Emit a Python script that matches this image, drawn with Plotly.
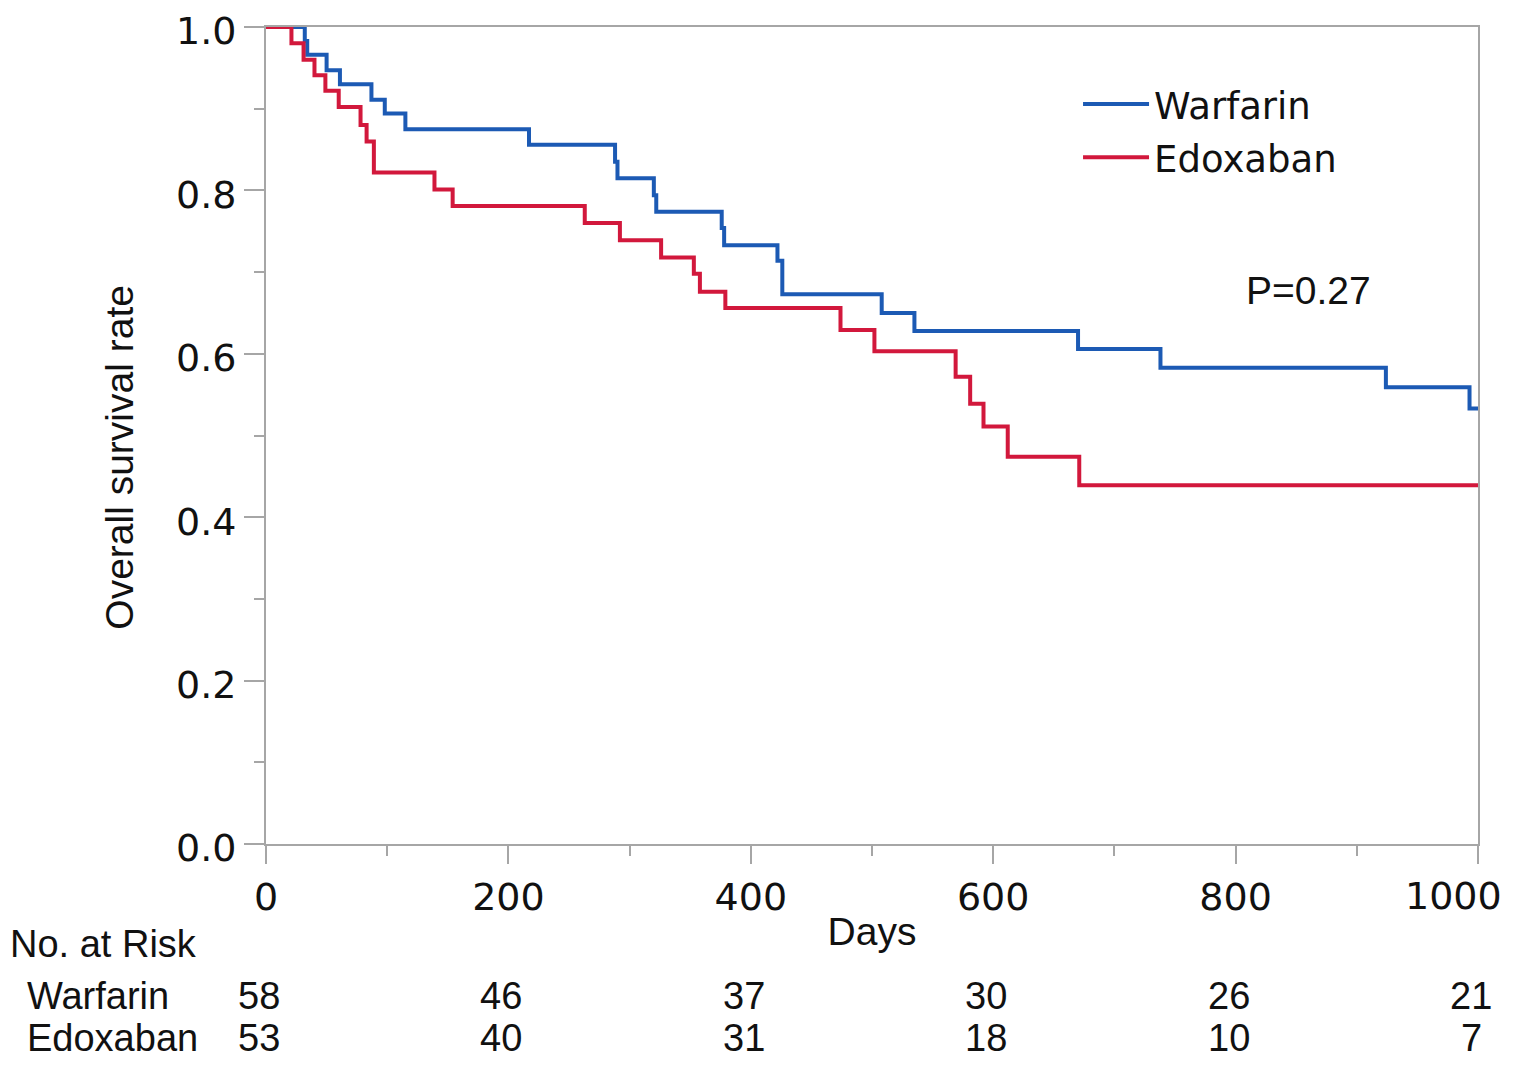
import plotly.graph_objs as go

# Kaplan-Meier steps (day, survival after the drop)
WARFARIN_DAYS = [0, 32, 34, 50, 61, 87, 98, 115, 217, 288, 290, 320, 322,
                 376, 378, 422, 426, 508, 535, 670, 738, 924, 993, 1000]
WARFARIN_SURV = [1.0, 0.983, 0.966, 0.947, 0.930, 0.911, 0.894, 0.875, 0.856,
                 0.835, 0.815, 0.794, 0.774, 0.754, 0.733, 0.714, 0.673, 0.650,
                 0.628, 0.606, 0.583, 0.559, 0.533, 0.533]

EDOXABAN_DAYS = [0, 21, 31, 40, 49, 60, 78, 83, 89, 139, 154, 263, 292, 326,
                 353, 358, 379, 474, 502, 569, 581, 592, 612, 671, 1000]
EDOXABAN_SURV = [1.0, 0.980, 0.960, 0.941, 0.922, 0.902, 0.880, 0.860, 0.822,
                 0.801, 0.781, 0.760, 0.739, 0.718, 0.698, 0.676, 0.656, 0.629,
                 0.603, 0.572, 0.539, 0.511, 0.474, 0.439, 0.439]

# numbers at risk
RISK_DAYS = [0, 200, 400, 600, 800, 1000]
WARFARIN_RISK = [58, 46, 37, 30, 26, 21]
EDOXABAN_RISK = [53, 40, 31, 18, 10, 7]

X_TICKS = [0, 200, 400, 600, 800, 1000]
# the last label sits pulled in from the right edge, so it is written as a note below
X_TICK_TEXT = ["0", "200", "400", "600", "800", ""]
LAST_TICK_TEXT = "1000"

P_TEXT = "P=0.27"

BLUE = "#1c5ab4"
RED = "#d2183c"
GREY = "#a6a6a6"
TICK_FONT = dict(family="DejaVu Sans", size=38, color="#111111")
ARIAL = dict(family="Liberation Sans, Arial", size=39, color="#111111")
TABLE_FONT = dict(family="Liberation Sans, Arial", size=38, color="#111111")

fig = go.Figure()

for name, days, surv, color in [
    ("Warfarin", WARFARIN_DAYS, WARFARIN_SURV, BLUE),
    ("Edoxaban", EDOXABAN_DAYS, EDOXABAN_SURV, RED),
]:
    fig.add_trace(
        go.Scatter(
            x=days,
            y=surv,
            mode="lines",
            name=name,
            legendgroup=name,
            line=dict(color=color, width=4, shape="hv"),
        )
    )

axis_common = dict(
    showline=True,
    linecolor=GREY,
    linewidth=2,
    mirror=True,
    showgrid=False,
    zeroline=False,
    ticks="outside",
    tickcolor=GREY,
    tickwidth=2,
    tickfont=TICK_FONT,
    ticklabeloverflow="allow",
    ticklabelstandoff=0,
    automargin=False,
)

fig.update_xaxes(
    range=[0, 1000],
    tickvals=X_TICKS,
    ticktext=X_TICK_TEXT,
    ticklen=18,
    minor=dict(dtick=100, tick0=0, ticks="outside", ticklen=10, tickcolor=GREY, tickwidth=2),
    title=dict(text="Days", font=ARIAL, standoff=0),
    **axis_common,
)
fig.update_yaxes(
    range=[0, 1],
    tick0=0,
    dtick=0.2,
    tickformat=".1f",
    ticklen=20,
    ticklabelshift=4,  # nudge down so "1.0" stays inside the page
    minor=dict(dtick=0.1, ticks="outside", ticklen=10, tickcolor=GREY, tickwidth=2),
    **axis_common,
)


def note(text, x, y, xref="paper", xanchor="center", font=ARIAL, **kw):
    return dict(text=text, x=x, y=y, xref=xref, yref="paper", xanchor=xanchor,
                yanchor="middle", showarrow=False, font=font, **kw)


ROW_RISK, ROW_W, ROW_E = -0.1224, -0.1860, -0.2375

annotations = [
    note("Overall survival rate", -0.1205, 0.474, textangle=-90),
    note(P_TEXT, 0.86, 0.678),
    note(LAST_TICK_TEXT, X_TICKS[-1], -0.0637, xref="x", xanchor="right",
         xshift=26, font=TICK_FONT),
    note("No. at Risk", -0.2130, ROW_RISK, xanchor="left", font=TABLE_FONT),
    note("Warfarin", -0.1990, ROW_W, xanchor="left", font=TABLE_FONT),
    note("Edoxaban", -0.1990, ROW_E, xanchor="left", font=TABLE_FONT),
]
for day, w, e in zip(RISK_DAYS, WARFARIN_RISK, EDOXABAN_RISK):
    annotations.append(note(str(w), day, ROW_W, xref="x", xshift=-7, font=TABLE_FONT))
    annotations.append(note(str(e), day, ROW_E, xref="x", xshift=-7, font=TABLE_FONT))

fig.update_layout(
    width=1500,
    height=1054,
    margin=dict(l=258, r=30, t=19, b=218),
    plot_bgcolor="white",
    paper_bgcolor="white",
    showlegend=True,
    legend=dict(
        x=0.670,
        y=0.943,
        xanchor="left",
        yanchor="top",
        font=dict(family="DejaVu Sans", size=37, color="#111111"),
        bgcolor="rgba(0,0,0,0)",
        itemwidth=66,
        tracegroupgap=2,
    ),
    annotations=annotations,
)

fig.write_html("out.html")
